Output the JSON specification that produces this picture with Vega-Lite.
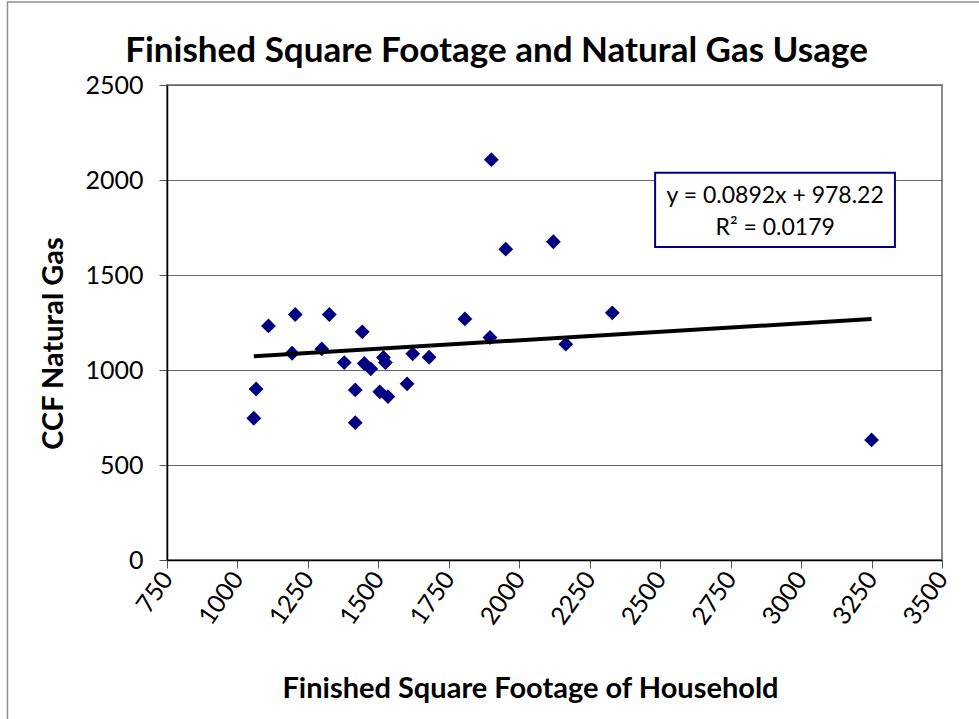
{
  "$schema": "https://vega.github.io/schema/vega-lite/v6.json",
  "width": 775,
  "height": 475,
  "autosize": {"type": "none"},
  "padding": {"left": 167, "top": 85, "right": 37, "bottom": 159},
  "background": "white",
  "title": {
    "text": "Finished Square Footage and Natural Gas Usage",
    "font": "Lato",
    "fontSize": 35,
    "fontWeight": "bold",
    "color": "black",
    "anchor": "middle",
    "dx": -58,
    "offset": -96,
    "baseline": "alphabetic"
  },
  "config": {
    "view": {"stroke": "#8c8c8c", "strokeWidth": 2},
    "axis": {
      "labelFont": "Lato",
      "labelFontSize": 25,
      "labelColor": "black",
      "titleFont": "Lato",
      "titleFontSize": 29,
      "titleFontWeight": "bold",
      "titleColor": "black",
      "domainColor": "black",
      "domainWidth": 1.5,
      "tickColor": "#555555",
      "tickSize": 8,
      "labelOverlap": false,
      "labelFlush": false,
      "format": "d"
    }
  },
  "datasets": {
    "homes": [
      {"sqft": 1058, "ccf": 746},
      {"sqft": 1066, "ccf": 900},
      {"sqft": 1110, "ccf": 1232},
      {"sqft": 1194, "ccf": 1088},
      {"sqft": 1205, "ccf": 1292},
      {"sqft": 1299, "ccf": 1111},
      {"sqft": 1326, "ccf": 1292},
      {"sqft": 1379, "ccf": 1039},
      {"sqft": 1418, "ccf": 895},
      {"sqft": 1418, "ccf": 723},
      {"sqft": 1443, "ccf": 1201},
      {"sqft": 1450, "ccf": 1034},
      {"sqft": 1473, "ccf": 1006},
      {"sqft": 1505, "ccf": 885},
      {"sqft": 1518, "ccf": 1066},
      {"sqft": 1525, "ccf": 1039},
      {"sqft": 1534, "ccf": 860},
      {"sqft": 1602, "ccf": 927},
      {"sqft": 1622, "ccf": 1085},
      {"sqft": 1680, "ccf": 1067},
      {"sqft": 1807, "ccf": 1269},
      {"sqft": 1896, "ccf": 1171},
      {"sqft": 1901, "ccf": 2107},
      {"sqft": 1952, "ccf": 1636},
      {"sqft": 2121, "ccf": 1675},
      {"sqft": 2165, "ccf": 1136},
      {"sqft": 2330, "ccf": 1301},
      {"sqft": 3250, "ccf": 632}
    ],
    "trend": [
      {"sqft": 1058, "ccf": 1072.59},
      {"sqft": 3250, "ccf": 1268.12}
    ],
    "fitLabel": [
      {"line1": "y = 0.0892x + 978.22", "line2": "R² = 0.0179"}
    ]
  },
  "layer": [
    {
      "data": {"name": "fitLabel"},
      "mark": {"type": "rect", "fill": null, "stroke": "#8f8f8f", "strokeWidth": 1.5},
      "encoding": {
        "x": {
          "datum": 184,
          "type": "quantitative",
          "scale": {"domain": [750, 3500], "nice": false, "zero": false},
          "axis": {
            "title": "Finished Square Footage of Household",
            "values": [750, 1000, 1250, 1500, 1750, 2000, 2250, 2500, 2750, 3000, 3250, 3500],
            "grid": false,
            "labelAngle": -55,
            "labelAlign": "right",
            "labelBaseline": "middle",
            "labelPadding": 6,
            "titleX": 363,
            "titleY": 137,
            "titleBaseline": "alphabetic"
          }
        },
        "x2": {"datum": 3660},
        "y": {
          "datum": 2937,
          "type": "quantitative",
          "scale": {"domain": [0, 2500], "nice": false, "zero": true},
          "axis": {
            "title": "CCF Natural Gas",
            "values": [0, 500, 1000, 1500, 2000, 2500],
            "grid": true,
            "gridColor": "#666666",
            "gridWidth": 1,
            "labelPadding": 16,
            "titleAngle": 270,
            "titleX": -105,
            "titleY": 258,
            "titleAlign": "center",
            "titleBaseline": "alphabetic"
          }
        },
        "y2": {"datum": -880}
      }
    },
    {
      "data": {"name": "homes"},
      "mark": {"type": "point", "shape": "diamond", "filled": true, "color": "#000080", "size": 220, "opacity": 1},
      "encoding": {
        "x": {"field": "sqft", "type": "quantitative", "title": "Finished Square Footage of Household"},
        "y": {"field": "ccf", "type": "quantitative", "title": "CCF Natural Gas"}
      }
    },
    {
      "data": {"name": "trend"},
      "mark": {"type": "line", "color": "black", "strokeWidth": 4},
      "encoding": {
        "x": {"field": "sqft", "type": "quantitative", "title": "Finished Square Footage of Household"},
        "y": {"field": "ccf", "type": "quantitative", "title": "CCF Natural Gas"}
      }
    },
    {
      "data": {"name": "fitLabel"},
      "mark": {"type": "rect", "fill": "white", "stroke": "#000080", "strokeWidth": 2},
      "encoding": {
        "x": {"datum": 2482, "type": "quantitative"},
        "x2": {"datum": 3333},
        "y": {"datum": 2038, "type": "quantitative"},
        "y2": {"datum": 1648}
      }
    },
    {
      "data": {"name": "fitLabel"},
      "mark": {
        "type": "text",
        "font": "Lato",
        "fontSize": 23,
        "color": "black",
        "align": "center",
        "baseline": "alphabetic"
      },
      "encoding": {
        "x": {"datum": 2908, "type": "quantitative"},
        "y": {"datum": 1880, "type": "quantitative"},
        "text": {"field": "line1"}
      }
    },
    {
      "data": {"name": "fitLabel"},
      "mark": {
        "type": "text",
        "font": "Lato",
        "fontSize": 23,
        "color": "black",
        "align": "center",
        "baseline": "alphabetic"
      },
      "encoding": {
        "x": {"datum": 2908, "type": "quantitative"},
        "y": {"datum": 1712, "type": "quantitative"},
        "text": {"field": "line2"}
      }
    }
  ]
}
